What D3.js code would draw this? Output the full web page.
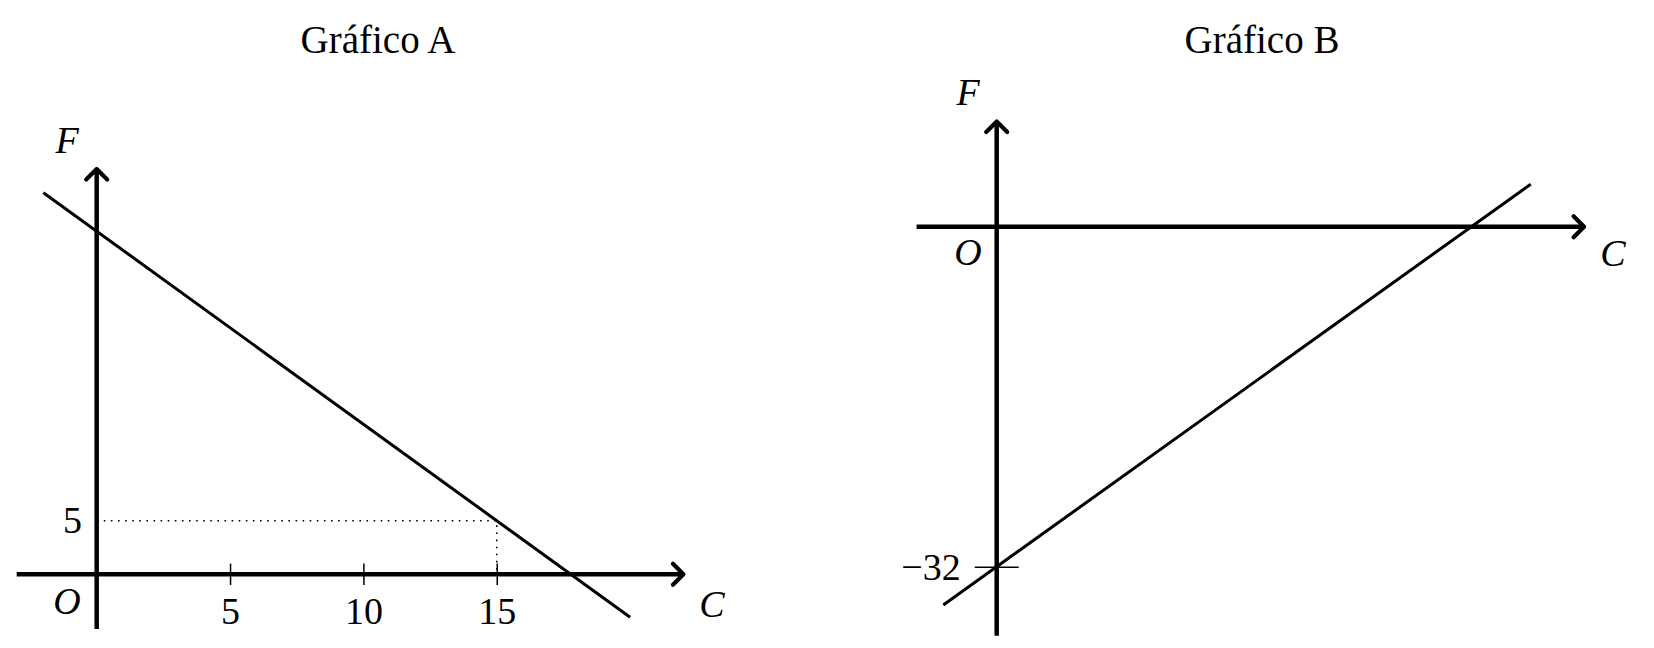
<!DOCTYPE html>
<html>
<head>
<meta charset="utf-8">
<script src="https://cdn.jsdelivr.net/npm/d3@7"></script>
<style>
  body { margin: 0; background: #fff; }
  svg { display: block; }
  text { font-family: "Liberation Serif", "DejaVu Serif", serif; fill: #000; }
  .it { font-style: italic; }
</style>
</head>
<body>
<svg id="chart" width="1654" height="648"></svg>
<script>
// chart A: wrong relation, falls through (15, 5)
const titleA = 'Gráfico A';
const lineA = [{ c: -2, f: 35.6 }, { c: 20, f: -4 }];
const ticksA = [5, 10, 15];
const markA = { c: 15, f: 5 };
const yLabelA = [5];

// chart B: starts at -32 on F axis
const titleB = 'Gráfico B';
const lineB = [{ c: -2, f: -35.6 }, { c: 20, f: 4 }];
const yTicksB = [-32];

const svg = d3.select('#chart');
const FS = 38;

// little chevron arrow head like tikz "->"
const arrowHead = (g, x, y, dir) => {
  const s = 10.5;
  const d = dir === 'right'
    ? `M${x - s},${y - s} L${x},${y} L${x - s},${y + s}`
    : `M${x - s},${y + s} L${x},${y} L${x + s},${y + s}`;
  g.append('path').attr('d', d).attr('fill', 'none')
    .attr('stroke', '#000').attr('stroke-width', 4.2)
    .attr('stroke-linecap', 'round').attr('stroke-linejoin', 'round');
};

const drawAxes = (g, x, y, xDom, yDom) => {
  g.append('line')
    .attr('x1', x(xDom[0])).attr('x2', x(xDom[1]))
    .attr('y1', y(0)).attr('y2', y(0))
    .attr('stroke', '#000').attr('stroke-width', 4.5);
  arrowHead(g, x(xDom[1]), y(0), 'right');
  g.append('line')
    .attr('x1', x(0)).attr('x2', x(0))
    .attr('y1', y(yDom[0])).attr('y2', y(yDom[1]))
    .attr('stroke', '#000').attr('stroke-width', 4.5);
  arrowHead(g, x(0), y(yDom[1]), 'up');
};

const line = (x, y) => d3.line().x(d => x(d.c)).y(d => y(d.f));

// ---------- Gráfico A ----------
{
  const xDom = [-3, 22], yDom = [-5.1, 37.8];
  const x = d3.scaleLinear().domain([0, 1]).range([96.7, 96.7 + 26.67]);
  const y = d3.scaleLinear().domain([0, 1]).range([574.3, 574.3 - 10.72]);
  const g = svg.append('g');

  g.append('text').attr('x', 378).attr('y', 53)
    .attr('text-anchor', 'middle').attr('font-size', 39).text(titleA);

  // dotted guide to (15, 5)
  g.append('path')
    .attr('d', `M${x(0)},${y(markA.f)} H${x(markA.c)} V${y(0)}`)
    .attr('fill', 'none').attr('stroke', '#000').attr('stroke-width', 1.6)
    .attr('stroke-dasharray', '1.6,5.5');

  drawAxes(g, x, y, xDom, yDom);

  const ax = g.append('g')
    .attr('transform', `translate(0,${y(0)})`)
    .call(d3.axisBottom(x).tickValues(ticksA).tickFormat(d3.format('d'))
      .tickSize(10.7).tickPadding(0));
  ax.select('.domain').remove();
  ax.selectAll('.tick line').attr('y1', -10.7).attr('y2', 10.7)
    .attr('stroke', '#000').attr('stroke-width', 1.5);
  ax.selectAll('.tick text').attr('y', 50).attr('dy', null)
    .attr('font-size', FS).attr('font-family', '"Liberation Serif", serif');

  g.selectAll('.ylab').data(yLabelA).join('text')
    .attr('x', 72.5).attr('y', d => y(d) + 12.5)
    .attr('text-anchor', 'middle').attr('font-size', FS).text(d => d);

  g.append('path').datum(lineA).attr('d', line(x, y))
    .attr('stroke', '#000').attr('stroke-width', 3).attr('fill', 'none');

  g.append('text').attr('class', 'it').attr('x', 67).attr('y', 153)
    .attr('text-anchor', 'middle').attr('font-size', FS).text('F');
  g.append('text').attr('class', 'it').attr('x', 712).attr('y', 617)
    .attr('text-anchor', 'middle').attr('font-size', FS).text('C');
  g.append('text').attr('class', 'it').attr('x', 67).attr('y', 614)
    .attr('text-anchor', 'middle').attr('font-size', FS).text('O');
}

// ---------- Gráfico B ----------
{
  const xDom = [-3, 22], yDom = [-38.5, 9.9];
  const x = d3.scaleLinear().domain([0, 1]).range([996.7, 996.7 + 26.7]);
  const y = d3.scaleLinear().domain([0, 1]).range([226.7, 226.7 - 10.625]);
  const g = svg.append('g');

  g.append('text').attr('x', 1262).attr('y', 53)
    .attr('text-anchor', 'middle').attr('font-size', 39).text(titleB);

  drawAxes(g, x, y, xDom, yDom);

  const ay = g.append('g')
    .attr('transform', `translate(${x(0)},0)`)
    .call(d3.axisLeft(y).tickValues(yTicksB).tickSize(22).tickPadding(0)
      .tickFormat(d => '\u2212' + Math.abs(d)));
  ay.select('.domain').remove();
  ay.selectAll('.tick line').attr('x1', -22).attr('x2', 22)
    .attr('stroke', '#000').attr('stroke-width', 1.5);
  ay.selectAll('.tick text').attr('x', -36).attr('dy', '0.33em')
    .attr('font-size', FS).attr('font-family', '"Liberation Serif", serif');

  g.append('path').datum(lineB).attr('d', line(x, y))
    .attr('stroke', '#000').attr('stroke-width', 3).attr('fill', 'none');

  g.append('text').attr('class', 'it').attr('x', 968).attr('y', 105)
    .attr('text-anchor', 'middle').attr('font-size', FS).text('F');
  g.append('text').attr('class', 'it').attr('x', 1613).attr('y', 266)
    .attr('text-anchor', 'middle').attr('font-size', FS).text('C');
  g.append('text').attr('class', 'it').attr('x', 968).attr('y', 265)
    .attr('text-anchor', 'middle').attr('font-size', FS).text('O');
}
</script>
</body>
</html>
